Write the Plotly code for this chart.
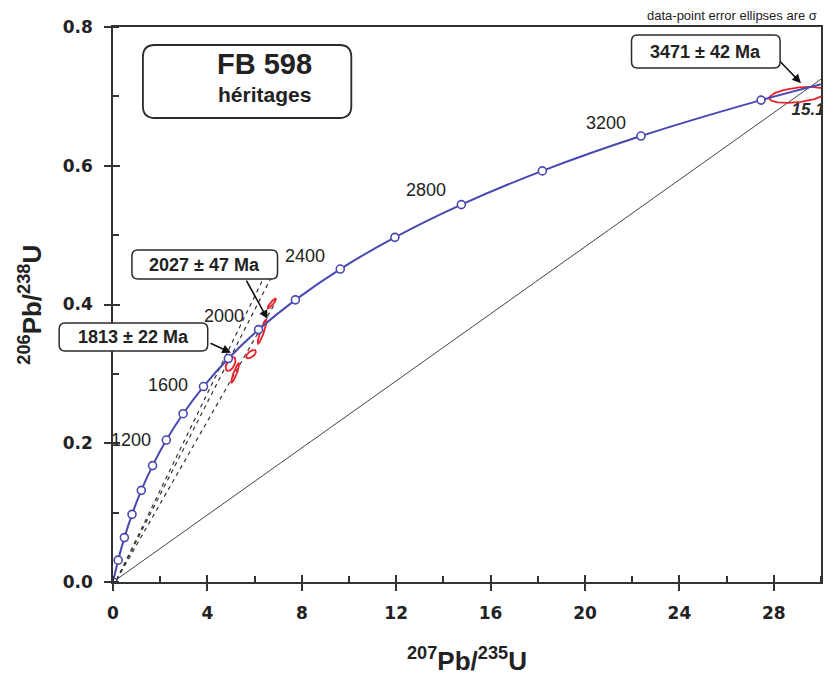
import numpy as np
import plotly.graph_objects as go

# ---------------- data ----------------
# Concordia reference points (Ma) and their ratios
conc_age = [0, 200, 400, 600, 800, 1000, 1200, 1400, 1600, 1800, 2000,
            2200, 2400, 2600, 2800, 3000, 3200, 3400, 3500]
conc_x = [0.0, 0.2177, 0.4828, 0.8057, 1.1988, 1.6774, 2.2603, 2.9701, 3.8344,
          4.8869, 6.1685, 7.7291, 9.6295, 11.944, 14.762, 18.193, 22.372, 27.461, 30.41]
conc_y = [0.0, 0.0315, 0.0640, 0.0975, 0.1321, 0.1678, 0.2046, 0.2426, 0.2817,
          0.3221, 0.3638, 0.4067, 0.4511, 0.4968, 0.5440, 0.5926, 0.6428, 0.6946, 0.7211]
label_ages = [1200, 1600, 2000, 2400, 2800, 3200]

# error ellipses (centre, 1-sigma, correlation)
ell_x = [29.02, 6.73, 6.32, 5.85, 4.98, 5.18]
ell_sx = [1.21, 0.18, 0.19, 0.21, 0.21, 0.17]
ell_y = [0.7021, 0.4016, 0.3609, 0.3284, 0.3143, 0.3013]
ell_sy = [0.01155, 0.0072, 0.0173, 0.0060, 0.0101, 0.0140]
ell_rho = [0.40, 0.90, 0.90, 0.60, 0.50, 0.90]

# dashed discordia lines (start / end)
disc_x0 = [0.15, 0.15, 0.15]
disc_y0 = [0.003, 0.003, 0.003]
disc_x1 = [6.50, 6.90, 6.90]
disc_y1 = [0.4466, 0.452, 0.404]

# 3471 Ma discordia (through origin)
old_x = [0.0, 30.6]
old_y = [0.0, 0.7393]

# intercept ages (arrow tips)
ic_text = ["3471 ± 42 Ma", "2027 ± 47 Ma", "1813 ± 22 Ma"]
ic_x = [29.15, 6.55, 5.00]
ic_y = [0.719, 0.379, 0.3306]

# ---------------- figure ----------------
BLUE = "#4848b2"
RED = "#e8212a"
DARK = "#2a2a2a"

fig = go.Figure()

for i in range(len(disc_x0)):
    fig.add_trace(go.Scatter(x=[disc_x0[i], disc_x1[i]], y=[disc_y0[i], disc_y1[i]],
                             mode="lines", line=dict(color="#333", width=1.2, dash="4px,4px"),
                             hoverinfo="skip"))

fig.add_trace(go.Scatter(x=old_x, y=old_y, mode="lines",
                         line=dict(color="#444", width=1), hoverinfo="skip"))

th = np.linspace(0, 2 * np.pi, 120)
for cx, sx, cy, sy, r in zip(ell_x, ell_sx, ell_y, ell_sy, ell_rho):
    ex = cx + sx * np.cos(th)
    ey = cy + sy * (r * np.cos(th) + np.sqrt(1 - r * r) * np.sin(th))
    fig.add_trace(go.Scatter(x=ex, y=ey, mode="lines", line=dict(color=RED, width=1.8),
                             hoverinfo="skip"))

fig.add_trace(go.Scatter(x=conc_x, y=conc_y, mode="lines",
                         line=dict(color=BLUE, width=2, shape="spline"), hoverinfo="skip"))
fig.add_trace(go.Scatter(x=conc_x[:-1], y=conc_y[:-1], mode="markers",
                         marker=dict(size=8, color="white", line=dict(color=BLUE, width=1.6)),
                         hoverinfo="skip"))

fig.add_trace(go.Scatter(x=[28.75], y=[0.679], mode="text", text=["<b><i>15.1</i></b>"],
                         textposition="middle right", cliponaxis=True,
                         textfont=dict(family="Liberation Sans, Arial", size=17, color=DARK),
                         hoverinfo="skip"))

# dummy trace for overlay axes (inside half of crossing ticks)
fig.add_trace(go.Scatter(x=[0], y=[0], xaxis="x2", yaxis="y2", mode="markers",
                         marker=dict(opacity=0), hoverinfo="skip"))

# age labels on concordia
lab_shift_y = [0, 2, 14, 13, 15, 13]
for a, sy_ in zip(label_ages, lab_shift_y):
    k = conc_age.index(a)
    fig.add_annotation(x=conc_x[k], y=conc_y[k], text=str(a), showarrow=False,
                       xshift=-35, yshift=sy_,
                       font=dict(family="Liberation Sans, Arial", size=18, color="#222"))

# ---- boxes (pixel helper) ----
L, T, W, H = 113, 27, 710, 555


def P(x, y):
    return f"{(x - L) / W:.5f},{(T + H - y) / H:.5f}"


def rrect(x0, y0, x1, y1, r):
    return ("M" + P(x0 + r, y0) + " L" + P(x1 - r, y0) + " Q" + P(x1, y0) + " " + P(x1, y0 + r) +
            " L" + P(x1, y1 - r) + " Q" + P(x1, y1) + " " + P(x1 - r, y1) +
            " L" + P(x0 + r, y1) + " Q" + P(x0, y1) + " " + P(x0, y1 - r) +
            " L" + P(x0, y0 + r) + " Q" + P(x0, y0) + " " + P(x0 + r, y0) + " Z")


boxes = [(143, 45, 352, 118, 12, 1.8), (633, 35, 782, 68, 6, 1.5),
         (132, 250, 278, 279, 6, 1.5), (59, 323, 208, 351, 6, 1.5)]
for x0, y0, x1, y1, r, lw in boxes:
    fig.add_shape(type="path", path=rrect(x0, y0, x1, y1, r), xref="paper", yref="paper",
                  line=dict(color=DARK, width=lw), fillcolor="white", layer="above")


def pa(x, y):
    return (x - L) / W, (T + H - y) / H


def txt(px, py, s, size, bold=True, xanchor="center"):
    X, Y = pa(px, py)
    fig.add_annotation(x=X, y=Y, xref="paper", yref="paper", text=(f"<b>{s}</b>" if bold else s),
                       showarrow=False, xanchor=xanchor, yanchor="middle",
                       font=dict(family="Liberation Sans, Arial", size=size, color="#222"))


txt(265, 64, "FB 598", 29)
txt(265, 95, "héritages", 21)
box_centres = [(707, 52), (205, 265), (134, 337)]
for s, (cx, cy) in zip(ic_text, box_centres):
    txt(cx, cy, s, 18)

# arrows
arrow_tail = [(-22, -23), (-22, -40), (-22, -10)]
for x, y, (axp, ayp) in zip(ic_x, ic_y, arrow_tail):
    fig.add_annotation(x=x, y=y, ax=axp, ay=ayp, text="", showarrow=True, arrowhead=2,
                       arrowsize=1.1, arrowwidth=1.6, arrowcolor="#111", standoff=0)

# top-right note
txt(821, 15, "data-point error ellipses are σ", 13, bold=False, xanchor="right")

# axis titles
fig.add_annotation(x=0.5, y=pa(0, 660)[1], xref="paper", yref="paper", showarrow=False,
                   text="<b><sup>207</sup>Pb/<sup>235</sup>U</b>", yanchor="middle",
                   font=dict(family="Liberation Sans, Arial", size=26, color="#222"))
fig.add_annotation(x=pa(30, 0)[0], y=0.5, xref="paper", yref="paper", showarrow=False,
                   text="<b><sup>206</sup>Pb/<sup>238</sup>U</b>", textangle=-90, xanchor="center",
                   font=dict(family="Liberation Sans, Arial", size=26, color="#222"))

tickfont = dict(family="DejaVu Sans", size=17, color="#222", weight="bold")
common = dict(showgrid=False, zeroline=False)
fig.update_layout(
    width=825, height=681, margin=dict(l=L, r=825 - L - W, t=T, b=681 - T - H),
    plot_bgcolor="white", paper_bgcolor="white", showlegend=False,
    xaxis=dict(range=[0, 30], tick0=0, dtick=4, ticks="outside", ticklen=7, tickwidth=1.5,
               tickcolor="#333", showline=True, linecolor="#333", linewidth=1.6, mirror=True,
               tickfont=tickfont, ticklabelstandoff=8,
               minor=dict(dtick=2, ticks="inside", ticklen=6, tickwidth=1.5, tickcolor="#333"),
               **common),
    yaxis=dict(range=[0, 0.8], tick0=0, dtick=0.2, tickformat=".1f", ticks="outside", ticklen=7,
               tickwidth=1.5, tickcolor="#333", showline=True, linecolor="#333", linewidth=1.6,
               mirror=True, tickfont=tickfont, ticklabelstandoff=8,
               minor=dict(dtick=0.1, ticks="inside", ticklen=6, tickwidth=1.5, tickcolor="#333"),
               **common),
    xaxis2=dict(range=[0, 30], overlaying="x", anchor="y2", side="bottom", tick0=0, dtick=4,
                ticks="inside", ticklen=7, tickwidth=1.5, tickcolor="#333",
                showticklabels=False, showline=False, **common),
    yaxis2=dict(range=[0, 0.8], overlaying="y", anchor="x2", side="left", tick0=0, dtick=0.2,
                ticks="inside", ticklen=7, tickwidth=1.5, tickcolor="#333",
                showticklabels=False, showline=False, **common),
)

fig.write_html("out.html")
